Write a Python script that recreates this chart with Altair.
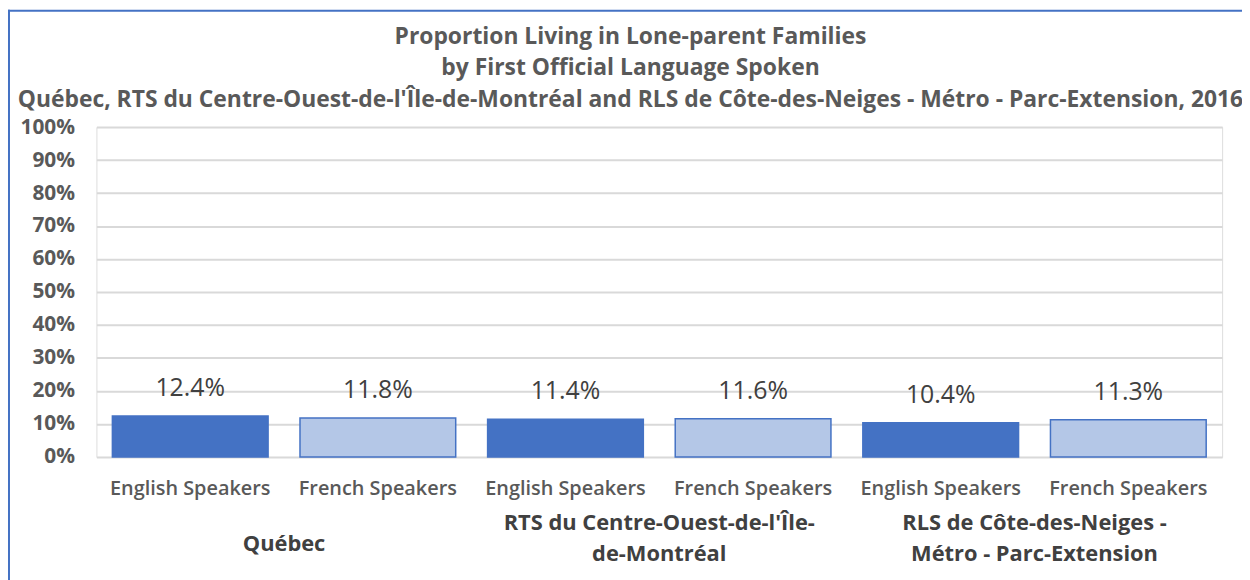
import altair as alt
import pandas as pd

groups = ["Québec", "RTS du Centre-Ouest-de-l'Île-|de-Montréal", "RLS de Côte-des-Neiges -|Métro - Parc-Extension"]
speakers = ["English Speakers", "French Speakers"]
group_col = ["Québec", "Québec",
             "RTS du Centre-Ouest-de-l'Île-|de-Montréal", "RTS du Centre-Ouest-de-l'Île-|de-Montréal",
             "RLS de Côte-des-Neiges -|Métro - Parc-Extension", "RLS de Côte-des-Neiges -|Métro - Parc-Extension"]
speaker_col = ["English Speakers", "French Speakers"] * 3
values = [12.4, 11.8, 11.4, 11.6, 10.4, 11.3]
y_ticks = [0, 0.1, 0.2, 0.3, 0.4, 0.5, 0.6, 0.7, 0.8, 0.9, 1.0]
title_lines = ["Proportion  Living in Lone-parent Families",
               "by First Official Language Spoken",
               "Québec, RTS du Centre-Ouest-de-l'Île-de-Montréal and RLS de Côte-des-Neiges - Métro - Parc-Extension, 2016"]

df = pd.DataFrame({"group": group_col, "speaker": speaker_col, "value": [v / 100 for v in values]})

W, H = 1133, 332
FONT = "Open Sans"

base = alt.Chart(df).encode(
    x=alt.X("group:N", sort=groups, title=None,
            scale=alt.Scale(paddingInner=0, paddingOuter=0),
            axis=alt.Axis(labelExpr="split(datum.label, '|')", ticks=False, tickSize=0, domain=False,
                          labelPadding={"condition": {"test": "datum.value === 'Québec'", "value": 87},
                                        "value": 66},
                          labelBaseline="middle", labelAngle=0,
                          labelFont=FONT, labelFontSize=22, labelFontWeight="bold",
                          labelColor="#404040", labelLimit=0, labelOverlap=False,
                          labelLineHeight=31, grid=False)),
    xOffset=alt.XOffset("speaker:N", sort=speakers,
                        scale=alt.Scale(paddingInner=0.17, paddingOuter=0.085)),
    y=alt.Y("value:Q", title=None,
            scale=alt.Scale(domain=[0, 1], nice=False),
            axis=alt.Axis(values=y_ticks, format=".0%", ticks=False, domain=False,
                          labelPadding=22, labelFont=FONT, labelFontSize=21,
                          labelFontWeight="bold", labelColor="#595959", labelOverlap=False,
                          gridColor="#d9d9d9", gridWidth=2)),
)

bars = base.mark_bar(stroke="#4472C4", strokeWidth=1.5).encode(
    color=alt.Color("speaker:N", sort=speakers,
                    scale=alt.Scale(domain=speakers, range=["#4472C4", "#B4C7E7"]),
                    legend=None),
)

labels = base.mark_text(baseline="middle", dy=-28, font=FONT, fontSize=25, color="#404040").encode(
    text=alt.Text("value:Q", format=".1%"),
)

speaker_labels = base.mark_text(baseline="middle", font=FONT, fontSize=20, fontWeight=600,
                                color="#595959").encode(
    y=alt.value(H + 32),
    text=alt.Text("speaker:N"),
)

one = pd.DataFrame({"a": [0]})
title_mark = alt.Chart(one).mark_text(baseline="middle", align="center", font=FONT, fontSize=23,
                                      fontWeight="bold", color="#595959", lineHeight=32).encode(
    x=alt.value(W / 2 - 29), y=alt.value(-91), text=alt.value(title_lines))
border_top = alt.Chart(one).mark_rule(color="#4472C4", strokeWidth=2).encode(
    x=alt.value(-89), x2=alt.value(W + 30), y=alt.value(-117))
border_left = alt.Chart(one).mark_rule(color="#4472C4", strokeWidth=2).encode(
    x=alt.value(-88), y=alt.value(-118), y2=alt.value(H + 130))

chart = alt.layer(bars, labels, speaker_labels, title_mark, border_top, border_left).properties(
    width=W, height=H,
    autosize=alt.AutoSizeParams(type="none"),
    padding={"left": 89, "top": 118, "right": 20, "bottom": 122},
).configure_view(stroke="#d9d9d9", strokeWidth=2).configure(font=FONT, background="white")

chart.save("out.html", embed_options={"renderer": "svg", "actions": False})
